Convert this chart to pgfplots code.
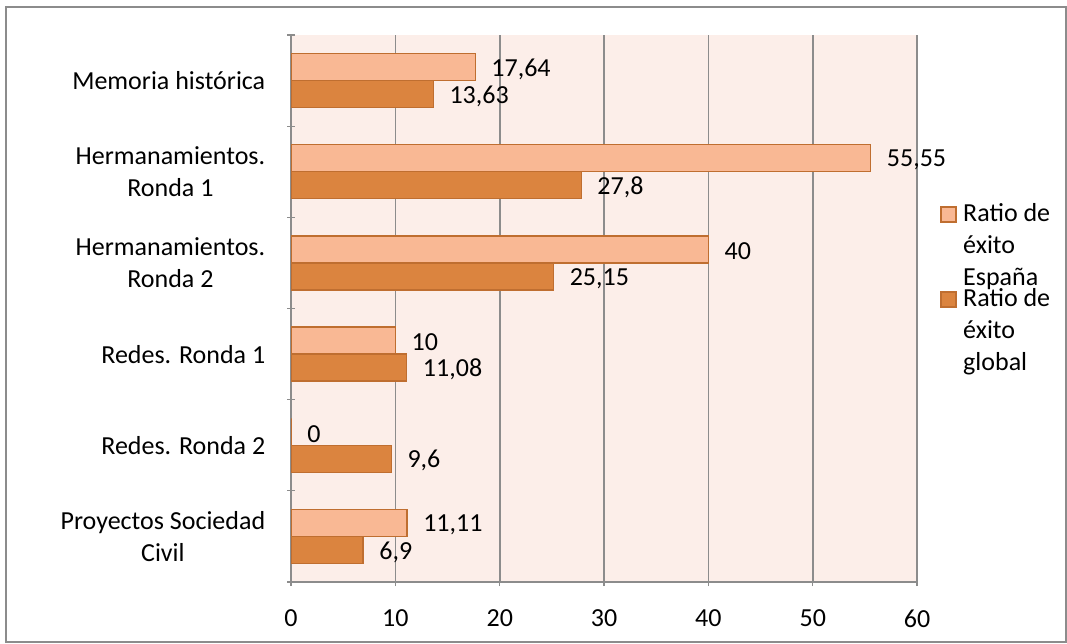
\documentclass[border=0pt]{standalone}
\usepackage{pgfplots}
\pgfplotsset{compat=1.18}
\usepackage{fontspec}
\setmainfont{Carlito}

\definecolor{espana}{HTML}{F9B894}
\definecolor{global}{HTML}{DB843F}
\definecolor{baredge}{HTML}{BF6E30}
\definecolor{plotbg}{HTML}{FCEEE9}
\definecolor{gridgray}{HTML}{8C8C8C}

\begin{document}
\fontsize{26}{32}\selectfont
\begin{tikzpicture}[x=1pt,y=1pt]
\useasboundingbox (0,0) rectangle (1067,644);
% marco exterior
\draw[gridgray, line width=2pt] (6,2) rectangle (1066,637);

\begin{axis}[
    at={(279,68)}, anchor=south west,
    scale only axis,
    width=626pt, height=547pt,
    xbar,
    bar width=27pt,
    xmin=0, xmax=60,
    ymin=-0.5, ymax=5.5,
    xtick={0,10,...,60},
    ytick={0,1,2,3,4,5},
    yticklabels={{Proyectos Sociedad\\Civil},{Redes. Ronda 2},{Redes. Ronda 1},
                 {Hermanamientos.\\Ronda 2},{Hermanamientos.\\Ronda 1},{Memoria histórica}},
    yticklabel style={align=center, xshift=-13pt},
    xticklabel style={yshift=-15pt},
    minor ytick={-0.5,0.5,...,5.5},
    tick align=outside,
    major tick length=8pt,
    minor tick length=8pt,
    major y tick style={draw=none},
    tick style={gridgray, line width=1.2pt},
    axis lines=left,
    axis line style={-, gridgray, line width=1.5pt},
    xmajorgrids,
    grid style={gridgray, line width=1.5pt},
    axis background/.style={fill=plotbg},
    /pgf/number format/assume math mode=true,
    nodes near coords={\pgfmathprintnumber[use comma]{\pgfplotspointmeta}},
    nodes near coords style={anchor=west, xshift=7pt, yshift=-2pt},
]

% Ratio de éxito España
\addplot[fill=espana, draw=baredge, line width=1.2pt, bar shift=13.5pt] coordinates {
    (17.64,5) (55.55,4) (40,3) (10,2) (0,1) (11.11,0)
};
% Ratio de éxito global
\addplot[fill=global, draw=baredge, line width=1.2pt, bar shift=-13.5pt] coordinates {
    (13.63,5) (27.8,4) (25.15,3) (11.08,2) (9.6,1) (6.9,0)
};
\end{axis}

% leyenda
\filldraw[fill=espana, draw=baredge, line width=1.2pt] (941,422) rectangle (956,437);
\node[anchor=base west, inner sep=0] at (963,422) {Ratio de};
\node[anchor=base west, inner sep=0] at (963,390) {éxito};
\node[anchor=base west, inner sep=0] at (963,358) {España};
\filldraw[fill=global, draw=baredge, line width=1.2pt] (941,337) rectangle (956,352);
\node[anchor=base west, inner sep=0] at (963,337) {Ratio de};
\node[anchor=base west, inner sep=0] at (963,305) {éxito};
\node[anchor=base west, inner sep=0] at (963,273) {global};
\end{tikzpicture}
\end{document}
